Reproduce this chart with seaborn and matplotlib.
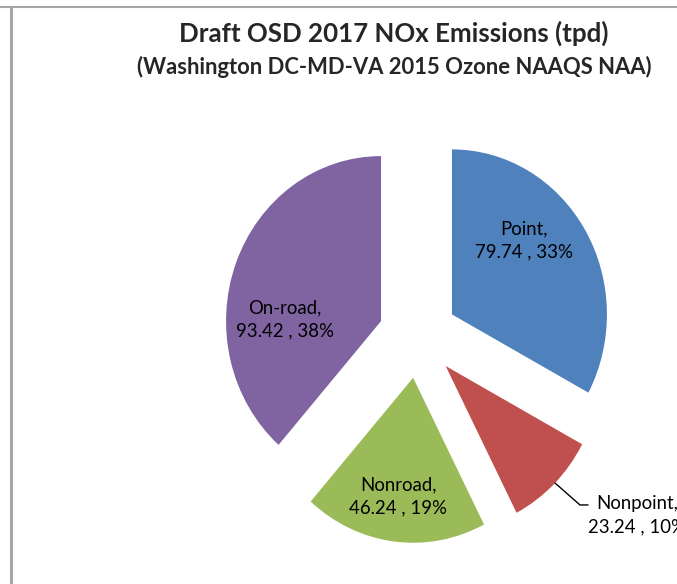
import matplotlib
matplotlib.use("Agg")
import matplotlib.pyplot as plt
import seaborn as sns
import numpy as np

categories = ["Point", "Nonpoint", "Nonroad", "On-road"]
values = [79.74, 23.24, 46.24, 93.42]
percents = ["33%", "10%", "19%", "38%"]
colors = ["#4F81BD", "#C0504D", "#9BBB59", "#8064A2"]

sns.set_theme(style="white")
plt.rcParams['font.family'] = ['Lato', 'DejaVu Sans']

fig = plt.figure(figsize=(6.77, 5.84), dpi=100)
ax = fig.add_axes([0, 0, 1, 1])
ax.set_axis_off()

explode = [0.255] * len(values)
wedges, _ = ax.pie(values, colors=colors, startangle=90, counterclock=False,
                   explode=explode, radius=1.0,
                   wedgeprops=dict(linewidth=0))
ax.set_aspect('auto')
ax.set_xlim(-2.697, 1.671)
ax.set_ylim(-1.503, 2.036)

label_pos = {
    "Point": (0.684, 0.582),
    "On-road": (-0.861, 0.103),
    "Nonroad": (-0.129, -0.97),
    "Nonpoint": (1.413, -1.085),
}
for cat, v, p in zip(categories, values, percents):
    x, y = label_pos[cat]
    ax.text(x, y, f"{cat},\n{v:.2f} , {p}", ha="center", va="center",
            fontsize=13.4, color="black", linespacing=1.42, clip_on=False)

# leader line for Nonpoint
ax.plot([0.884, 1.045, 1.097], [-0.891, -1.024, -1.024], color="black",
        lw=1.0, clip_on=False)

fig.text(393.5 / 677, 1 - 33 / 584, "Draft OSD 2017 NOx Emissions (tpd)",
         ha="center", va="center", fontsize=18.6, fontweight="bold")
fig.text(394 / 677, 1 - 67 / 584, "(Washington DC-MD-VA 2015 Ozone NAAQS NAA)",
         ha="center", va="center", fontsize=15.8, fontweight="bold")

# frame lines (partial chart border)
fig.add_artist(plt.Line2D([0, 1], [1 - 6.5 / 584] * 2, transform=fig.transFigure,
                          color="#A6A6A6", lw=1.5))
fig.add_artist(plt.Line2D([10.5 / 677] * 2, [0, 1 - 6.5 / 584], transform=fig.transFigure,
                          color="#A6A6A6", lw=2.2))

fig.savefig("out.png", dpi=100)
